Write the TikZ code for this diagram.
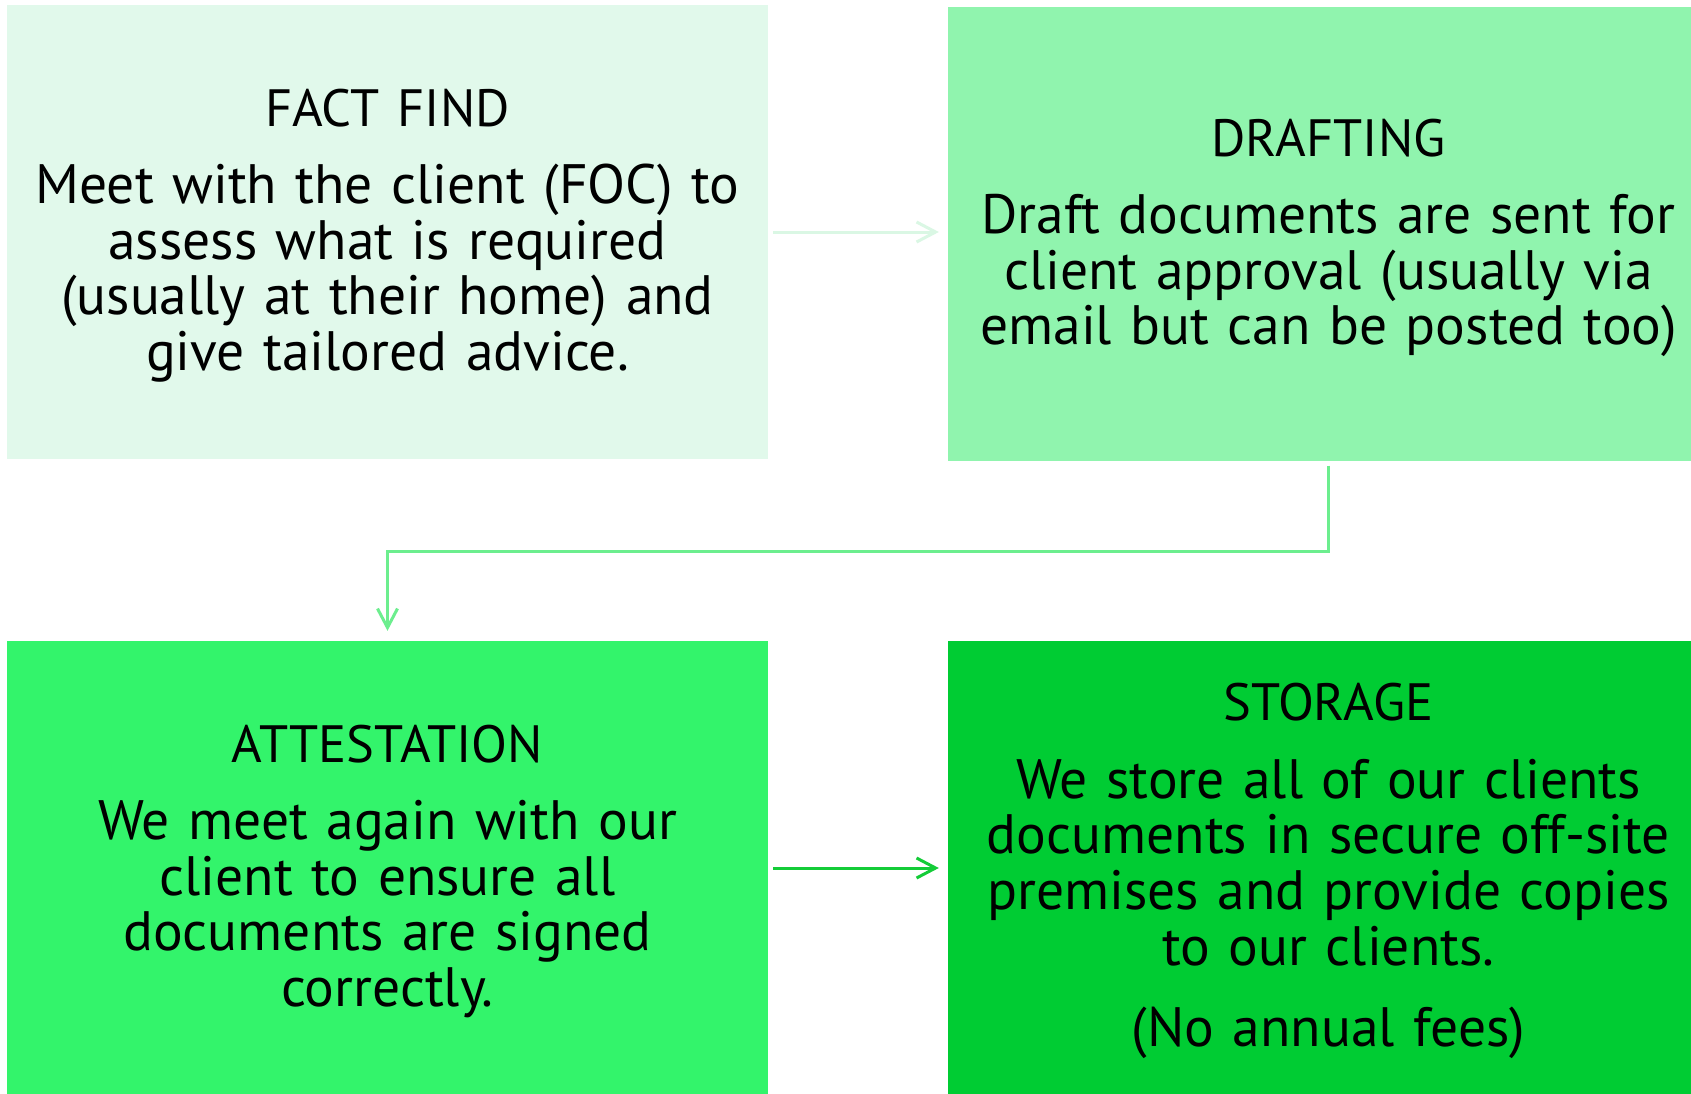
\documentclass[tikz,border=0pt]{standalone}
\usepackage{fontspec}
\setmainfont{PT Sans}
\usetikzlibrary{arrows.meta}
\definecolor{cA}{HTML}{E1F9EB}
\definecolor{cB}{HTML}{90F4AE}
\definecolor{cC}{HTML}{33F46B}
\definecolor{cD}{HTML}{00CC33}
\definecolor{lA}{HTML}{DAF7E4}
\definecolor{lB}{HTML}{6CEE8E}
\definecolor{lC}{HTML}{14CC38}
\newcommand{\stitle}[1]{{\fontsize{52.5}{55.7}\selectfont #1}}
\tikzset{
  stagebox/.style={minimum width=761pt, minimum height=454pt, inner sep=0pt},
  stagetext/.style={inner sep=0pt, text width=755pt, align=center, text=black,
    font=\fontsize{55.5}{55.7}\selectfont},
  conn/.style={line width=3pt, -{Straight Barb[length=19pt,width=20pt,line width=3pt]}},
}
\begin{document}
\begin{tikzpicture}[x=1pt,y=-1pt]
\useasboundingbox (0,0) rectangle (1691,1093);
\clip (0,0) rectangle (1691,1093);
\fill[white] (0,0) rectangle (1691,1093);
\node[stagebox, fill=cA] (f) at (387.5,232) {};
\node[stagebox, fill=cB] (d) at (1328.5,234.4) {};
\node[stagebox, fill=cC] (a) at (387.5,868) {};
\node[stagebox, fill=cD] (s) at (1328.5,868) {};
\node[stagetext] (ft) at ([yshift=-3.5pt]f.center) {\stitle{FACT FIND}\\[21.5pt]
Meet with the client (FOC) to\\ assess what is required\\ (usually at their home) and\\ give tailored advice.};
\node[stagetext] (dt) at ([yshift=-3.5pt]d.center) {\stitle{DRAFTING}\\[21.5pt]
Draft documents are sent for\\ client approval (usually via\\ email but can be posted too)};
\node[stagetext] (at) at ([yshift=-3.5pt]a.center) {\stitle{ATTESTATION}\\[21.5pt]
We meet again with our\\ client to ensure all\\ documents are signed\\ correctly.};
\node[stagetext] (st) at ([yshift=-3pt]s.center) {\stitle{STORAGE}\\[22pt]
We store all of our clients\\ documents in secure off-site\\ premises and provide copies\\ to our clients.\\[26pt]
(No annual fees)};
\draw[conn, lA] ([xshift=5pt]f.east) -- ([xshift=-9pt]f.east -| d.west);
\draw[conn, lB] ([yshift=-4pt]d.south) -- ++(0,86) -| ([yshift=10pt]a.north);
\draw[conn, lC] ([xshift=5pt]a.east) -- ([xshift=-9pt]a.east -| s.west);
\end{tikzpicture}
\end{document}
